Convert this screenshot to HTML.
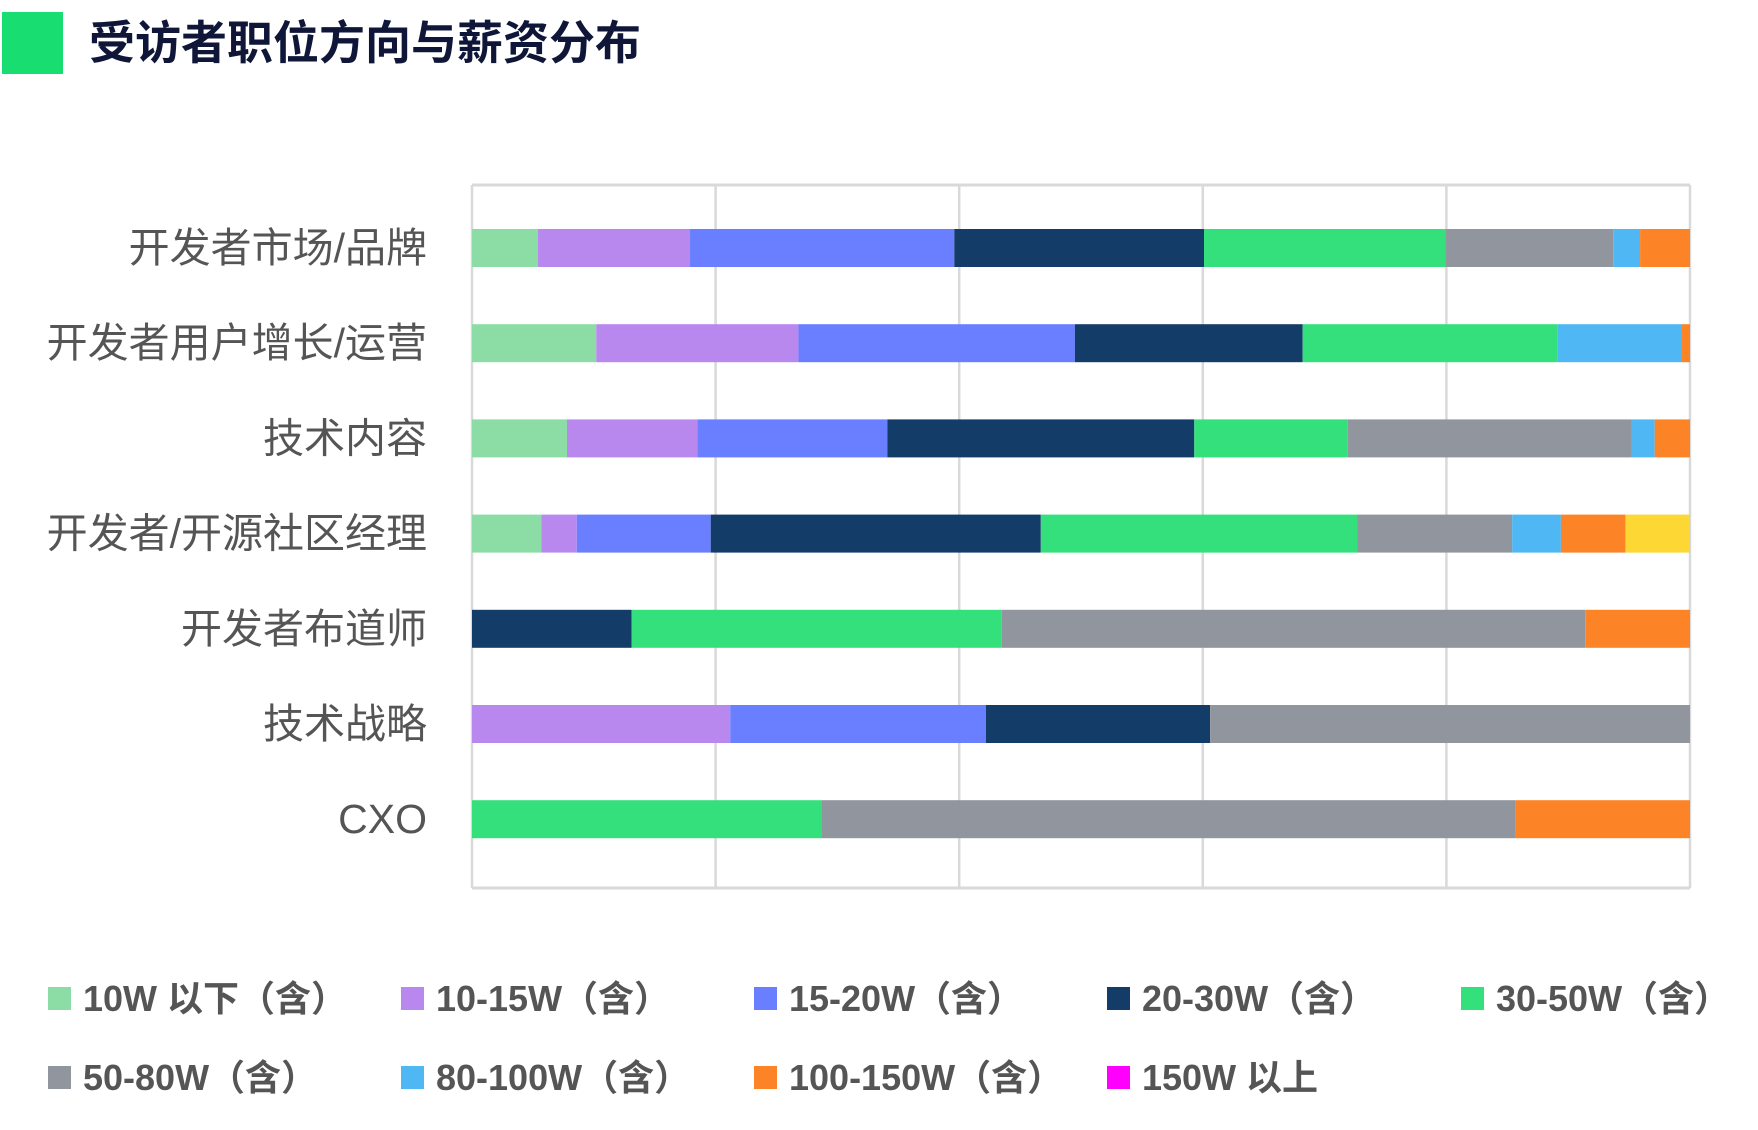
<!DOCTYPE html>
<html><head><meta charset="utf-8"><style>
html,body{margin:0;padding:0;background:#fff;}
svg{display:block;}
text{font-family:"Liberation Sans","Noto Sans CJK SC",sans-serif;}
</style></head><body>
<svg id="chart" width="1758" height="1130" viewBox="0 0 1758 1130">
<rect x="2" y="12" width="61" height="62" fill="#18DE72"/>
<text x="89" y="59" font-size="46" font-weight="bold" fill="#0F1638" style="font-family:'Noto Sans CJK SC',sans-serif">受访者职位方向与薪资分布</text>
<g id="grid"></g>
<g id="bars"></g>
<g id="ylabels"></g>
<g id="legend"></g>
</svg>
<script>
const categories = ["开发者市场/品牌","开发者用户增长/运营","技术内容","开发者/开源社区经理","开发者布道师","技术战略","CXO"];
const seriesNames = ["10W 以下（含）","10-15W（含）","15-20W（含）","20-30W（含）","30-50W（含）","50-80W（含）","80-100W（含）","100-150W（含）","150W 以上"];
const s10 = [5.4,10.2,7.8,5.7,0,0,0];
const s15 = [12.5,16.6,10.7,2.9,0,21.2,0];
const s20 = [21.7,22.7,15.6,11.0,0,21.0,0];
const s30 = [20.5,18.7,25.2,27.1,13.1,18.4,0];
const s50 = [19.8,20.9,12.6,26.0,30.4,0,28.7];
const s80 = [13.8,0,23.3,12.7,47.9,39.4,57.0];
const s100 = [2.2,10.2,1.9,4.0,0,0,0];
const s150 = [4.1,0.7,2.9,5.3,8.6,0,14.3];
const sTop = [0,0,0,5.3,0,0,0];
const xTicks = [0,20,40,60,80,100];

const series = [s10,s15,s20,s30,s50,s80,s100,s150,sTop];
const colors = ["#8CDCA6","#B988EF","#6A7FFF","#143C69","#34E07C","#91959D","#4FB8F4","#FC8427","#FDD835"];
const legendColors = ["#8CDCA6","#B988EF","#6A7FFF","#143C69","#34E07C","#91959D","#4FB8F4","#FC8427","#FF00FF"];
const NS="http://www.w3.org/2000/svg";
const L=472,R=1690,T=185,B=888;
const x=v=>L+(R-L)*v/100;
const y0=248, step=95.2, bh=38;
const y=i=>y0+step*i;
function mk(t,a,p){const e=document.createElementNS(NS,t);for(const k in a)e.setAttribute(k,a[k]);p.appendChild(e);return e;}
const grid=document.getElementById('grid');
xTicks.forEach(t=>{
  const l=mk('line',{x1:x(t),x2:x(t),y1:T,y2:B,stroke:'#D9D9D9','stroke-width':2.5},grid);
  
  
});
const tb=mk('line',{x1:L,x2:R,y1:T,y2:T,stroke:'#D9D9D9','stroke-width':3},grid);


const bb=mk('line',{x1:L,x2:R,y1:B,y2:B,stroke:'#D9D9D9','stroke-width':3},grid);


const bars=document.getElementById('bars');
categories.forEach((c,i)=>{
  let acc=0;
  series.forEach((s,k)=>{
    const v=s[i];
    if(v>0){
      const r=mk('rect',{x:x(acc),y:y(i)-bh/2,width:x(acc+v)-x(acc),height:bh,fill:colors[k]},bars);
      
      
    }
    acc+=v;
  });
});
const yl=document.getElementById('ylabels');
categories.forEach((c,i)=>{
  const t=mk('text',{x:427,y:y(i)+14,'text-anchor':'end','font-size':41,fill:'#555'},yl);
  t.textContent=c;
  
  
});
const lg=document.getElementById('legend');
const lx=[48,401,754,1107,1461], ly=[998,1077];
seriesNames.forEach((n,k)=>{
  const cx=lx[k%5], cy=ly[Math.floor(k/5)];
  const g=mk('g',{},lg);
  
  
  mk('rect',{x:cx,y:cy-11,width:23,height:23,fill:legendColors[k]},g);
  const t=mk('text',{x:cx+35,y:cy+13,'font-size':36,'font-weight':'bold',fill:'#555'},g);
  t.textContent=n;
});
</script>
</body></html>
